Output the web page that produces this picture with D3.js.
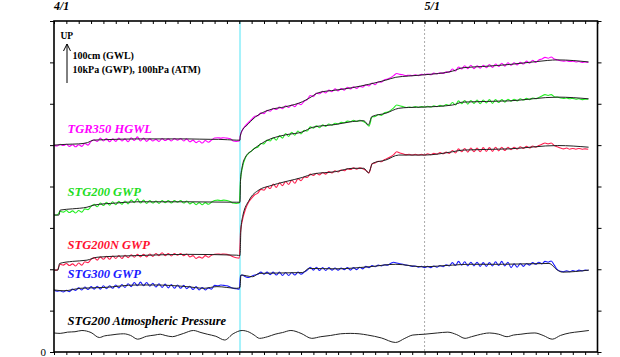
<!DOCTYPE html>
<html><head><meta charset="utf-8">
<script src="https://cdn.jsdelivr.net/npm/d3@7"></script>
<style>
html,body{margin:0;padding:0;background:#fff;}
svg{display:block;}
text{font-family:"Liberation Serif","Times New Roman",serif;}
</style></head>
<body>
<svg id="chart" width="620" height="357"></svg>
<script>
// ---------------- DATA ----------------
// time axis: days since 4/1 00:00
const dayDomain = [0, 44];
const valueDomain = [0, 8];          // one tick = 100cm (GWL) / 10kPa (GWP) / 100hPa (ATM)
const dateLabels = [{day: 0, label: "4/1"}, {day: 30, label: "5/1"}];
const quakeDay = 15.06;              // 4/16 main shock
const may1Day = 30;

const seriesNames = ["TGR350 HGWL", "STG200 GWP", "STG200N GWP", "STG300 GWP", "STG200 Atmospheric Pressure"];

// raw records, sampled every 0.25 day; pre-quake: days 0..15.0
const tgrPre = [
5.00,4.98,5.02,4.99, 5.02,4.97,5.01,4.96, 5.01,4.97,5.04,5.00, 5.09,5.13,5.09,5.17,
5.10,5.16,5.08,5.15, 5.09,5.17,5.10,5.15, 5.08,5.18,5.11,5.20, 5.10,5.17,5.09,5.15,
5.10,5.14,5.09,5.16, 5.11,5.15,5.10,5.16, 5.12,5.16,5.10,5.15, 5.08,5.12,5.06,5.10,
5.05,5.11,5.07,5.12, 5.17,5.18,5.17,5.18, 5.17,5.16,5.10,5.09, 5.10];
// post-quake: day 15.1, then 15.25..43.25
const tgrPost = [
5.25, 5.36,5.47,5.55,
5.62,5.70,5.71,5.78, 5.76,5.84,5.82,5.89, 5.86,5.92,5.88,5.95, 5.91,5.97,5.93,6.01,
5.98,6.06,6.10,6.20, 6.17,6.26,6.24,6.30, 6.26,6.33,6.29,6.36, 6.31,6.37,6.33,6.40,
6.36,6.41,6.37,6.42, 6.40,6.46,6.43,6.50, 6.46,6.53,6.52,6.58, 6.60,6.63,6.68,6.73,
6.71,6.70,6.68,6.69, 6.68,6.70,6.68,6.71, 6.70,6.72,6.70,6.74, 6.72,6.75,6.73,6.77,
6.76,6.84,6.79,6.89, 6.84,6.92,6.85,6.93, 6.85,6.92,6.86,6.93, 6.87,6.95,6.88,6.96,
6.90,6.98,6.91,6.99, 6.93,6.99,6.94,7.00, 6.96,7.03,6.98,7.05, 7.00,7.06,7.08,7.12,
7.10,7.13,7.08,7.06, 7.04,7.03,7.04,7.02, 7.03,7.01,7.02,7.00, 7.01,7.00];

const stg200Pre = [
3.31,3.31,3.40,3.38, 3.42,3.37,3.41,3.36, 3.42,3.38,3.46,3.44, 3.52,3.57,3.51,3.60,
3.54,3.62,3.55,3.63, 3.56,3.64,3.57,3.65, 3.58,3.67,3.61,3.70, 3.60,3.67,3.59,3.66,
3.60,3.65,3.59,3.66, 3.61,3.66,3.60,3.66, 3.62,3.66,3.60,3.65, 3.58,3.62,3.56,3.61,
3.56,3.61,3.57,3.62, 3.66,3.67,3.66,3.67, 3.66,3.64,3.60,3.59, 3.60];
const stg200Post = [
4.15, 4.45,4.70,4.80,
4.86,4.93,4.95,5.04, 5.03,5.12,5.10,5.18, 5.12,5.23,5.17,5.28, 5.21,5.31,5.24,5.34,
5.27,5.36,5.34,5.44, 5.41,5.47,5.42,5.49, 5.45,5.51,5.48,5.53, 5.51,5.55,5.54,5.58,
5.57,5.60,5.57,5.60, 5.58,5.53,5.46,5.68, 5.69,5.74,5.72,5.78, 5.80,5.84,5.90,5.97,
5.95,5.93,5.91,5.92, 5.91,5.93,5.91,5.93, 5.92,5.94,5.92,5.95, 5.93,5.96,5.94,5.98,
5.96,6.03,5.97,6.07, 6.00,6.08,5.99,6.08, 6.01,6.09,6.00,6.09, 6.02,6.10,6.01,6.10,
6.03,6.10,6.04,6.11, 6.06,6.11,6.07,6.12, 6.09,6.13,6.10,6.14, 6.12,6.15,6.19,6.22,
6.20,6.22,6.17,6.16, 6.14,6.13,6.14,6.12, 6.13,6.11,6.12,6.10, 6.11,6.11];

const stg200nPre = [
1.98,1.98,2.12,2.10, 2.14,2.09,2.13,2.08, 2.15,2.10,2.18,2.16, 2.24,2.28,2.22,2.30,
2.24,2.31,2.24,2.32, 2.26,2.33,2.26,2.34, 2.28,2.35,2.29,2.36, 2.30,2.36,2.30,2.37,
2.31,2.38,2.33,2.40, 2.33,2.38,2.32,2.38, 2.34,2.38,2.33,2.37, 2.30,2.33,2.26,2.30,
2.27,2.33,2.29,2.34, 2.36,2.37,2.36,2.37, 2.36,2.34,2.30,2.28, 2.27];
const stg200nPost = [
2.90, 3.18,3.45,3.62,
3.72,3.80,3.84,3.93, 3.91,4.00,3.95,4.06, 3.98,4.09,4.02,4.12, 4.05,4.15,4.08,4.19,
4.14,4.23,4.22,4.30, 4.27,4.32,4.28,4.34, 4.30,4.36,4.33,4.38, 4.35,4.40,4.38,4.43,
4.41,4.45,4.42,4.45, 4.43,4.39,4.33,4.55, 4.57,4.61,4.60,4.65, 4.68,4.72,4.77,4.84,
4.81,4.79,4.77,4.78, 4.76,4.78,4.76,4.78, 4.76,4.79,4.77,4.80, 4.78,4.82,4.79,4.83,
4.80,4.87,4.81,4.91, 4.84,4.92,4.83,4.93, 4.84,4.93,4.84,4.94, 4.85,4.94,4.85,4.95,
4.86,4.95,4.87,4.95, 4.89,4.95,4.90,4.96, 4.92,4.97,4.93,4.98, 4.95,4.99,5.02,5.05,
5.03,5.05,4.99,4.96, 4.93,4.91,4.93,4.90, 4.92,4.90,4.92,4.90, 4.91,4.90];

const stg300Pre = [
1.50,1.47,1.48,1.45, 1.49,1.46,1.52,1.49, 1.55,1.50,1.57,1.51, 1.58,1.52,1.59,1.52,
1.60,1.53,1.60,1.54, 1.62,1.55,1.63,1.56, 1.65,1.58,1.68,1.60, 1.69,1.60,1.68,1.59,
1.66,1.57,1.65,1.56, 1.64,1.55,1.63,1.54, 1.62,1.54,1.61,1.53, 1.59,1.51,1.58,1.50,
1.56,1.50,1.55,1.52, 1.61,1.60,1.62,1.61, 1.60,1.57,1.54,1.53, 1.52];
const stg300Post = [
1.84, 1.86,1.82,1.80,
1.83,1.86,1.88,1.93, 1.88,1.93,1.87,1.93, 1.86,1.93,1.85,1.92, 1.85,1.92,1.86,1.93,
1.88,1.93,1.98,2.05, 1.98,2.05,1.97,2.04, 1.97,2.04,1.98,2.03, 1.98,2.03,1.99,2.04,
1.98,2.04,1.99,2.05, 2.01,2.07,2.04,2.09, 2.06,2.10,2.08,2.11, 2.10,2.14,2.17,2.15,
2.13,2.12,2.10,2.09, 2.07,2.08,2.05,2.07, 2.04,2.07,2.04,2.08, 2.05,2.09,2.06,2.11,
2.08,2.16,2.09,2.19, 2.10,2.18,2.08,2.17, 2.08,2.17,2.07,2.16, 2.07,2.16,2.08,2.18,
2.09,2.19,2.08,2.17, 2.04,2.13,2.05,2.14, 2.07,2.14,2.10,2.16, 2.12,2.17,2.13,2.19,
2.17,2.20,2.10,1.99, 1.95,1.94,1.96,1.94, 1.97,1.95,1.98,1.96, 1.98,1.97];

// tide-corrected (smoothed) records: [day, value]
const tgrSmooth = [[0,5.00],[1,5.02],[2,5.03],[2.7,5.06],[3.2,5.12],[4,5.13],[6.7,5.15],[9,5.15],[10.8,5.15],[12.7,5.14],[13.3,5.14],[14.8,5.12],[15.06,5.12],[15.07,5.20],[15.3,5.39],[15.55,5.46],[16.3,5.68],[17.42,5.85],[18.77,5.93],[20.12,6.05],[20.63,6.13],[21.44,6.27],[22.82,6.33],[24.17,6.39],[25.49,6.47],[26.86,6.57],[27.67,6.64],[28.72,6.67],[29.99,6.70],[32.28,6.79],[33.09,6.87],[34.71,6.90],[36.89,6.95],[39.08,7.02],[40.78,7.06],[43.28,7.01]];
const stg200Smooth = [[0,3.31],[0.4,3.31],[0.5,3.43],[1.5,3.46],[2.67,3.50],[3.24,3.55],[5,3.60],[6.7,3.63],[10.8,3.63],[14.8,3.62],[15.06,3.62],[15.1,4.16],[15.25,4.50],[15.5,4.71],[16.08,4.88],[17.15,5.10],[18.77,5.25],[20.12,5.32],[20.93,5.43],[22.82,5.50],[24.17,5.57],[25.08,5.59],[25.45,5.49],[25.73,5.69],[26.86,5.77],[27.91,5.89],[28.72,5.91],[29.99,5.92],[32.28,5.97],[33.09,6.04],[36.89,6.07],[40.78,6.16],[43.28,6.12]];
const stg200nSmooth = [[0,1.98],[0.32,1.98],[0.45,2.14],[1.5,2.19],[2.67,2.22],[3.48,2.29],[6.7,2.33],[10.8,2.36],[14.8,2.34],[15.06,2.33],[15.13,2.95],[15.27,3.27],[15.8,3.67],[16.61,3.92],[17.42,4.01],[18.77,4.12],[20.12,4.22],[20.93,4.30],[22.82,4.36],[24.17,4.44],[25.08,4.44],[25.46,4.33],[25.79,4.56],[26.86,4.64],[27.91,4.76],[29.99,4.76],[32.28,4.84],[33.09,4.88],[36.89,4.91],[40.78,4.99],[43.28,4.95]];
const stg300Smooth = [[0,1.50],[0.81,1.48],[2.16,1.54],[4.05,1.56],[6.7,1.62],[8.09,1.62],[10.76,1.58],[12.14,1.54],[13.19,1.58],[14.8,1.54],[15.06,1.56],[15.13,1.86],[16.08,1.82],[16.61,1.90],[20.12,1.92],[20.66,2.02],[22.82,2.01],[25.51,2.06],[27.67,2.12],[29.83,2.06],[32.26,2.10],[33.6,2.12],[36.3,2.12],[40.07,2.14],[40.75,1.98],[41.16,1.93],[43.31,1.98]];
const atmPressure = [[0,0.46],[0.5,0.45],[1.1,0.48],[1.7,0.49],[2.26,0.52],[3.0,0.47],[3.67,0.35],[4.1,0.39],[4.6,0.41],[5.1,0.43],[5.64,0.44],[6.2,0.40],[6.77,0.31],[7.5,0.38],[8.18,0.41],[8.6,0.43],[9.0,0.40],[9.59,0.37],[10.0,0.40],[10.5,0.45],[11.29,0.52],[11.9,0.47],[12.41,0.43],[13.1,0.38],[13.82,0.29],[14.5,0.44],[15.23,0.52],[15.8,0.48],[16.2,0.41],[16.64,0.33],[17.3,0.37],[17.9,0.43],[18.5,0.47],[19.18,0.52],[20.0,0.45],[20.87,0.33],[21.6,0.37],[22.4,0.40],[23.2,0.44],[23.98,0.45],[24.7,0.44],[25.39,0.41],[26.5,0.34],[27.65,0.23],[28.4,0.33],[29.05,0.41],[30.0,0.43],[31.03,0.46],[31.88,0.48],[32.6,0.42],[33.28,0.33],[33.8,0.37],[34.3,0.41],[35.26,0.46],[36.0,0.43],[36.67,0.37],[37.2,0.41],[37.8,0.43],[38.3,0.45],[38.93,0.46],[39.6,0.40],[40.34,0.31],[41.0,0.40],[41.75,0.46],[42.5,0.49],[43.3,0.52]];

const seriesColors = ["#ff00ff", "#22ee22", "#ff1f4f", "#1a1aff", "#000000"];
const labelColors = ["#ff00ff", "#22dd22", "#ff1030", "#1a1aff", "#000000"];
// label anchor positions in data units [day, value]
const labelAnchors = [[1.1, 5.29], [1.1, 3.78], [1.1, 2.49], [1.1, 1.79], [1.1, 0.65]];

// ---------------- CHART ----------------
const svg = d3.select("#chart");
const M = {left: 54, right: 597.5, top: 21, bottom: 352};
const x = d3.scaleLinear().domain(dayDomain).range([M.left, M.right]);
const y = d3.scaleLinear().domain(valueDomain).range([M.bottom, M.top]);

const step = 0.25;
function rawPoints(pre, post) {
  const pts = pre.map((v, i) => [i * step, v]);
  post.forEach((v, i) => pts.push([i === 0 ? 15.1 : 15 + i * step, v]));
  return pts;
}

// event lines
svg.append("line").attr("x1", x(quakeDay)).attr("x2", x(quakeDay))
  .attr("y1", y(valueDomain[1])).attr("y2", y(valueDomain[0]))
  .attr("stroke", "#a6f2fb").attr("stroke-width", 2);
svg.append("line").attr("x1", x(may1Day)).attr("x2", x(may1Day))
  .attr("y1", y(valueDomain[1])).attr("y2", y(valueDomain[0]))
  .attr("stroke", "#aaaaaa").attr("stroke-width", 1).attr("stroke-dasharray", "2,2");

const rawLine = d3.line().x(d => x(d[0])).y(d => y(d[1])).curve(d3.curveMonotoneX);
const smoothLine = d3.line().x(d => x(d[0])).y(d => y(d[1])).curve(d3.curveMonotoneX);

const raws = [[tgrPre, tgrPost], [stg200Pre, stg200Post], [stg200nPre, stg200nPost], [stg300Pre, stg300Post]];
raws.forEach((r, i) => {
  svg.append("path").attr("d", rawLine(rawPoints(r[0], r[1])))
    .attr("fill", "none").attr("stroke", seriesColors[i]).attr("stroke-width", 1.1);
});
[tgrSmooth, stg200Smooth, stg200nSmooth, stg300Smooth, atmPressure].forEach(s => {
  svg.append("path").attr("d", smoothLine(s))
    .attr("fill", "none").attr("stroke", "#222").attr("stroke-width", 1);
});

// axes
const dayTicks = d3.range(dayDomain[0], dayDomain[1] + 1);
const valTicks = d3.range(valueDomain[0], valueDomain[1] + 1);
function styleAxis(g) { g.select(".domain").remove(); g.selectAll("line").attr("stroke", "#000"); }
svg.append("g").attr("transform", `translate(0,${M.top})`)
  .call(d3.axisTop(x).tickValues(dayTicks).tickSize(-3).tickFormat("")).call(styleAxis);
svg.append("g").attr("transform", `translate(0,${M.bottom})`)
  .call(d3.axisBottom(x).tickValues(dayTicks).tickSize(3).tickFormat("")).call(styleAxis);
const la = svg.append("g").attr("transform", `translate(${M.left},0)`)
  .call(d3.axisLeft(y).tickValues(valTicks).tickSize(4).tickPadding(4).tickFormat(d => d === 0 ? "0" : ""))
  .call(styleAxis);
la.selectAll("text").attr("font-family", "Liberation Sans, Arial, sans-serif").attr("font-size", 11).attr("fill", "#000");
svg.append("g").attr("transform", `translate(${M.right},0)`)
  .call(d3.axisRight(y).tickValues(valTicks).tickSize(4).tickFormat("")).call(styleAxis);

svg.append("rect").attr("x", M.left).attr("y", M.top)
  .attr("width", M.right - M.left).attr("height", M.bottom - M.top)
  .attr("fill", "none").attr("stroke", "#000").attr("stroke-width", 1.6);

// date labels
svg.selectAll(".dl").data(dateLabels).enter().append("text")
  .attr("x", d => x(d.day)).attr("y", 9.5)
  .attr("font-size", 12).attr("font-weight", "bold").attr("font-style", "italic")
  .text(d => d.label);

// series labels
seriesNames.forEach((n, i) => {
  svg.append("text").attr("x", x(labelAnchors[i][0])).attr("y", y(labelAnchors[i][1]))
    .attr("font-size", 12.5).attr("font-weight", "bold").attr("font-style", "italic")
    .attr("fill", labelColors[i]).text(n);
});

// scale note
const ax = 67;
svg.append("line").attr("x1", ax).attr("x2", ax).attr("y1", 44).attr("y2", 83).attr("stroke", "#000").attr("stroke-width", 1);
svg.append("path").attr("d", `M${ax-3.5},51 L${ax},44 L${ax+3.5},51`).attr("fill", "none").attr("stroke", "#000").attr("stroke-width", 1);
svg.append("text").attr("x", 60.5).attr("y", 39).attr("font-size", 9.5).attr("font-weight", "bold").text("UP");
svg.append("text").attr("x", 72.5).attr("y", 59).attr("font-size", 10).attr("font-weight", "bold").text("100cm (GWL)");
svg.append("text").attr("x", 72.5).attr("y", 72.5).attr("font-size", 10).attr("font-weight", "bold").text("10kPa (GWP), 100hPa (ATM)");
</script>
</body></html>
